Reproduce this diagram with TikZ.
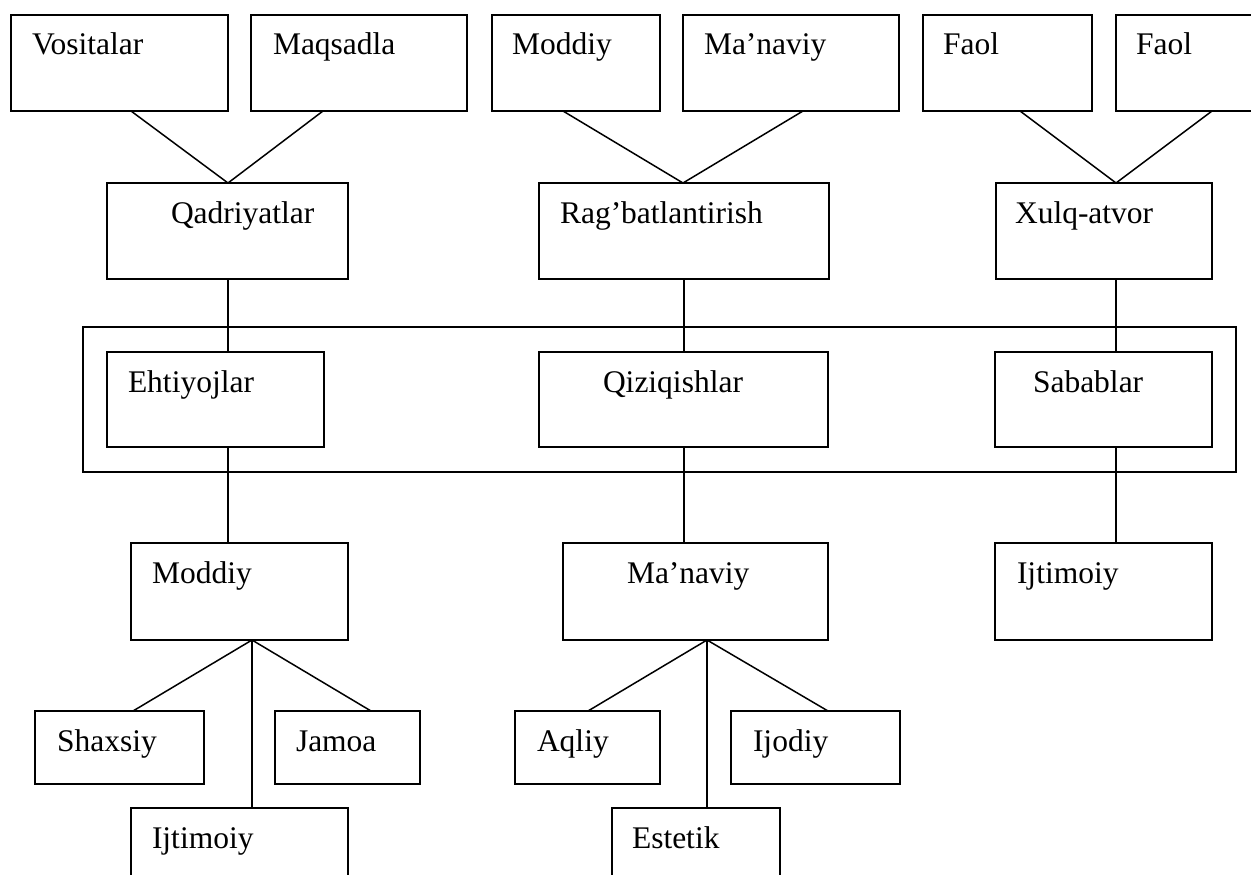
\documentclass[tikz,border=0pt]{standalone}
\usepackage{fontspec}
\setmainfont{Liberation Serif}
\usetikzlibrary{calc}
\tikzset{
  boxst/.style={draw=black, line width=1.5pt, rectangle, inner sep=0pt, outer sep=0pt},
  lbl/.style={inner sep=0pt, outer sep=0pt, font=\fontsize{31.5}{36}\selectfont, anchor=base west},
  conn/.style={draw=black, line width=1.5pt},
}
\newcommand{\mybox}[7]{%
  \node[boxst, minimum width={(#4-#2)*1pt}, minimum height={(#5-#3)*1pt}] (#1) at ({(#2+#4)/2},{(#3+#5)/2}) {};
  \node[lbl] (#1-t) at (#6,#3+40) {#7};
}
\newcommand{\conn}[4]{\draw[conn] ($(#1.south west)+(#2,0)$) -- ($(#3.north west)+(#4,0)$);}
\begin{document}
\begin{tikzpicture}[x=1pt,y=-1pt]
\useasboundingbox (0,0) rectangle (1251,875);
\fill[white] (0,0) rectangle (1251,875);
\clip (0,0) rectangle (1251,875);
% frame
\node[boxst, minimum width=1153pt, minimum height=145pt] (frame) at ({(83+1236)/2},{(327+472)/2}) {};
% top row
\mybox{vos}{11}{15}{228}{111}{32}{Vositalar}
\mybox{maq}{251}{15}{467}{111}{273}{Maqsadla}
\mybox{modA}{492}{15}{660}{111}{512}{Moddiy}
\mybox{manA}{683}{15}{899}{111}{704}{Ma’naviy}
\mybox{faolA}{923}{15}{1092}{111}{943}{Faol}
\mybox{faolB}{1116}{15}{1300}{111}{1136}{Faol}
% second row
\mybox{qad}{107}{183}{348}{279}{171}{Qadriyatlar}
\mybox{rag}{539}{183}{829}{279}{560}{Rag’batlantirish}
\mybox{xul}{996}{183}{1212}{279}{1015}{Xulq-atvor}
% framed row
\mybox{eht}{107}{352}{324}{447}{128}{Ehtiyojlar}
\mybox{qiz}{539}{352}{828}{447}{603}{Qiziqishlar}
\mybox{sab}{995}{352}{1212}{447}{1033}{Sabablar}
% fourth row
\mybox{modB}{131}{543}{348}{640}{152}{Moddiy}
\mybox{manB}{563}{543}{828}{640}{627}{Ma’naviy}
\mybox{ijtA}{995}{543}{1212}{640}{1017}{Ijtimoiy}
% bottom
\mybox{sha}{35}{711}{204}{784}{57}{Shaxsiy}
\mybox{jam}{275}{711}{420}{784}{296}{Jamoa}
\mybox{ijtB}{131}{808}{348}{930}{152}{Ijtimoiy}
\mybox{aql}{515}{711}{660}{784}{537}{Aqliy}
\mybox{ijo}{731}{711}{900}{784}{753}{Ijodiy}
\mybox{est}{612}{808}{780}{930}{632}{Estetik}
% connectors
\conn{vos}{120}{qad}{121}
\conn{maq}{72}{qad}{121}
\conn{modA}{71}{rag}{144}
\conn{manA}{120}{rag}{144}
\conn{faolA}{97}{xul}{120}
\conn{faolB}{96}{xul}{120}
\conn{qad}{121}{eht}{121}
\conn{rag}{145}{qiz}{145}
\conn{xul}{120}{sab}{121}
\conn{eht}{121}{modB}{97}
\conn{qiz}{145}{manB}{121}
\conn{sab}{121}{ijtA}{121}
\conn{modB}{121}{sha}{98}
\conn{modB}{121}{jam}{96}
\conn{modB}{121}{ijtB}{121}
\conn{manB}{144}{aql}{73}
\conn{manB}{144}{ijo}{97}
\conn{manB}{144}{est}{95}
\end{tikzpicture}
\end{document}
